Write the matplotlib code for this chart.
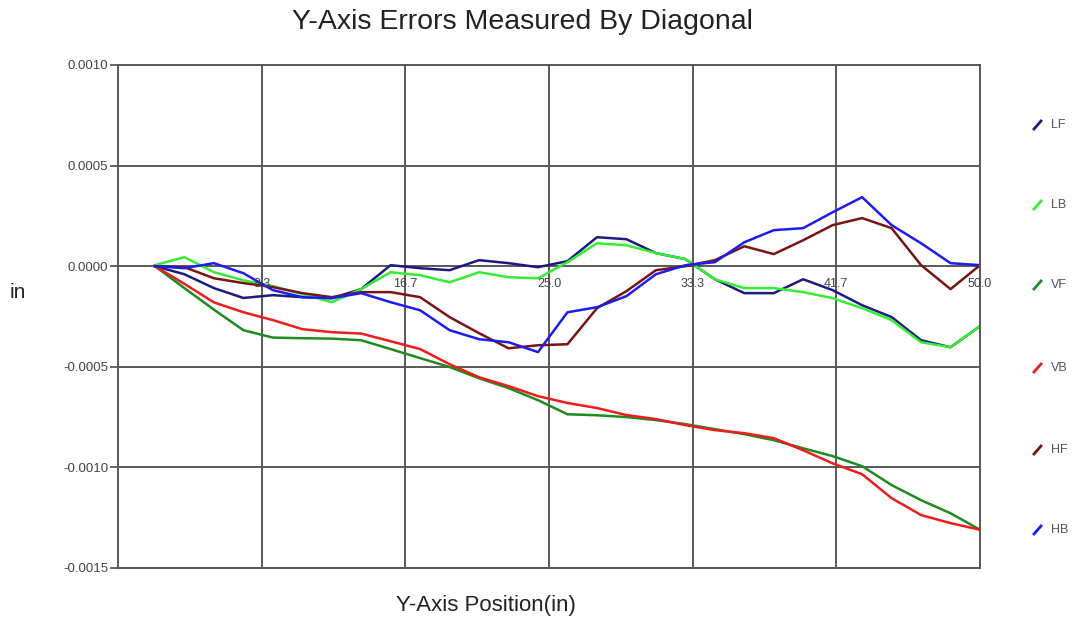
import numpy as np
import matplotlib
matplotlib.use("Agg")
import matplotlib.pyplot as plt
from matplotlib.lines import Line2D

plt.rcParams['font.family'] = ['Liberation Sans', 'DejaVu Sans']

# positions along the Y axis (in)
pos = [2.14, 3.85, 5.56, 7.27, 8.98, 10.69, 12.40, 14.10, 15.81, 17.52,
       19.23, 20.94, 22.65, 24.36, 26.07, 27.78, 29.49, 31.20, 32.91, 34.62,
       36.33, 38.04, 39.74, 41.45, 43.16, 44.87, 46.58, 48.29, 50.00]

# errors, units of 1e-4 in
lf = [0.0, -0.4, -1.09, -1.58, -1.44, -1.54, -1.59, -1.14, 0.05, -0.1,
      -0.2, 0.3, 0.15, -0.05, 0.25, 1.44, 1.34, 0.65, 0.35, -0.65,
      -1.34, -1.34, -0.65, -1.19, -1.94, -2.53, -3.68, -4.03, -2.98]
lb = [0.05, 0.45, -0.3, -0.7, -0.99, -1.39, -1.79, -1.14, -0.3, -0.45,
      -0.8, -0.3, -0.55, -0.6, 0.2, 1.14, 1.04, 0.65, 0.35, -0.65,
      -1.09, -1.09, -1.29, -1.59, -2.09, -2.68, -3.78, -4.03, -2.98]
vf = [0.0, -1.09, -2.16, -3.18, -3.55, -3.58, -3.6, -3.68, -4.12, -4.57,
      -5.01, -5.57, -6.06, -6.66, -7.36, -7.41, -7.5, -7.65, -7.85, -8.1,
      -8.35, -8.65, -9.05, -9.44, -9.94, -10.88, -11.63, -12.28, -13.1]
vb = [0.0, -0.88, -1.8, -2.29, -2.68, -3.13, -3.28, -3.35, -3.73, -4.12,
      -4.87, -5.52, -5.96, -6.46, -6.8, -7.05, -7.4, -7.6, -7.9, -8.15,
      -8.3, -8.55, -9.15, -9.8, -10.34, -11.53, -12.37, -12.77, -13.1]
hf = [0.0, -0.05, -0.6, -0.84, -1.04, -1.34, -1.54, -1.29, -1.29, -1.54,
      -2.53, -3.33, -4.08, -3.93, -3.88, -2.09, -1.24, -0.2, 0.0, 0.3,
      0.99, 0.6, 1.29, 2.04, 2.39, 1.89, 0.05, -1.14, 0.05]
hb = [0.0, -0.1, 0.15, -0.35, -1.19, -1.54, -1.59, -1.34, -1.79, -2.19,
      -3.18, -3.63, -3.78, -4.27, -2.29, -2.04, -1.49, -0.4, 0.05, 0.2,
      1.19, 1.79, 1.89, 2.68, 3.43, 2.04, 1.14, 0.15, 0.05]

names = ['LF', 'LB', 'VF', 'VB', 'HF', 'HB']
colors = ['#1c1c80', '#33ee33', '#1f8a1f', '#ee1c1c', '#7a1414', '#1c1cee']
series = [lf, lb, vf, vb, hf, hb]

xticks = [8.3, 16.7, 25.0, 33.3, 41.7, 50.0]
yticks = [-0.0015, -0.0010, -0.0005, 0.0, 0.0005, 0.0010]

fig = plt.figure(figsize=(10.74, 6.2), dpi=100)
ax = fig.add_axes([0.1099, 0.0839, 0.8026, 0.8113])

gridc = '#585858'
ax.set_xlim(0, 50)
ax.set_ylim(-0.0015, 0.0010)
ax.set_xticks([50 / 6 * i for i in range(1, 7)])
ax.set_xticklabels([])
ax.tick_params(axis='x', length=0)
ax.set_yticks(yticks)
ax.set_yticklabels(['%.4f' % v for v in yticks])
ax.tick_params(axis='y', length=6, width=1.3, color=gridc, labelsize=9.5,
               labelcolor='#444444', pad=1)
ax.grid(True, color=gridc, linewidth=1.4)
ax.set_axisbelow(True)
for s in ax.spines.values():
    s.set_color(gridc)
    s.set_linewidth(1.4)

for ys, c in zip(series, colors):
    ax.plot(pos, np.array(ys) * 1e-4, color=c, linewidth=1.8)

for i, t in enumerate(xticks):
    ax.annotate('%.1f' % t, xy=(50 / 6 * (i + 1), 0), xytext=(0, -12),
                textcoords='offset pixels', ha='center', va='top',
                fontsize=9, color='#444444')

fig.text(0.486, 0.965, 'Y-Axis Errors Measured By Diagonal', ha='center',
         va='center', fontsize=20.5, color='#222222')
fig.text(0.4525, 0.024, 'Y-Axis Position(in)', ha='center', va='center',
         fontsize=16, color='#222222')
fig.text(0.017, 0.528, 'in', ha='center', va='center', fontsize=15,
         color='#222222')

# legend on the right side
leg_y = [125, 205, 285, 368, 450, 530]
W, H = 1074, 620
for yy, n, c in zip(leg_y, names, colors):
    fig.add_artist(Line2D([1034 / W, 1041 / W], [1 - (yy + 4) / H, 1 - (yy - 4) / H],
                          color=c, linewidth=2, transform=fig.transFigure))
    fig.text(1051 / W, 1 - yy / H, n, ha='left', va='center', fontsize=9,
             color='#555555')

fig.savefig('out.png', dpi=100)
